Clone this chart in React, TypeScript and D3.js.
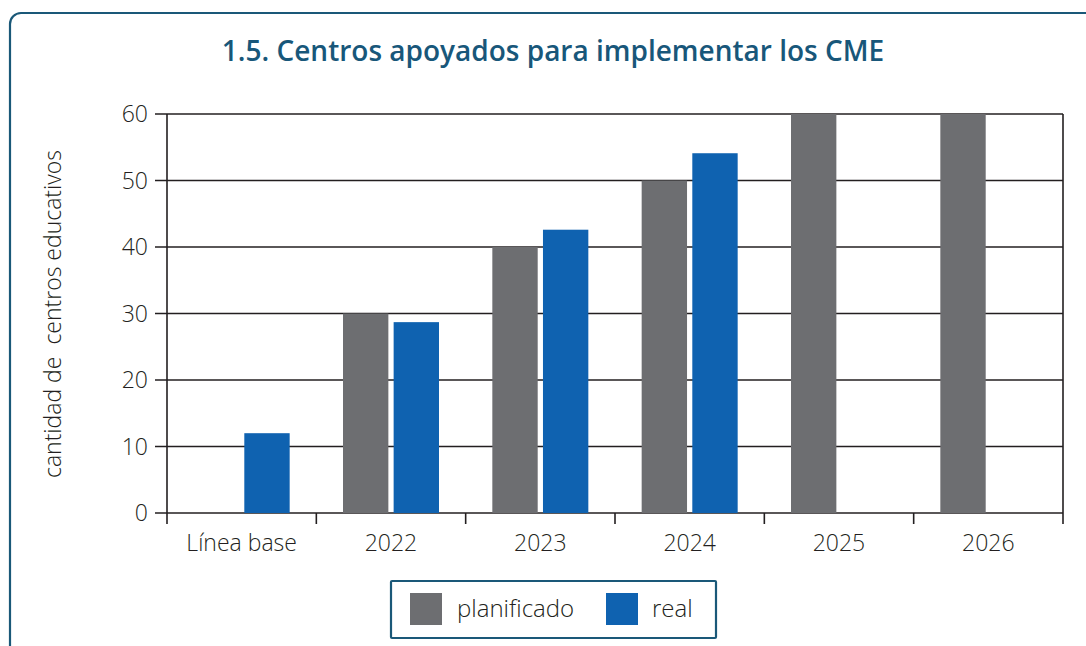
import React from "react";
import * as d3 from "d3";

const categories = ["Línea base", "2022", "2023", "2024", "2025", "2026"];
const planificado: (number | null)[] = [null, 30, 40, 50, 60, 60];
const real: (number | null)[] = [12, 28.7, 42.6, 54.1, null, null];
const yTicks = [0, 10, 20, 30, 40, 50, 60];
const seriesNames = ["planificado", "real"];
const title = "1.5. Centros apoyados para implementar los CME";
const yLabel = "cantidad de  centros educativos";

const W = 1086;
const H = 646;
const M = { left: 167, right: 1063, top: 114, bottom: 513 };
const GRAY = "#6d6e71";
const BLUE = "#0f62b0";
const TEAL = "#1a5878";
const INK = "#231f20";
const FONT = "'Open Sans', sans-serif";

export default function App() {
  const x = d3.scaleBand<string>().domain(categories).range([M.left, M.right]).padding(0);
  const y = d3.scaleLinear().domain([0, 60]).range([M.bottom, M.top]);
  const inner = d3.scaleBand<string>().domain(seriesNames).range([0, 96]).paddingInner(10 / 96);
  const bw = inner.bandwidth();
  const colors: Record<string, string> = { planificado: GRAY, real: BLUE };
  const data: Record<string, (number | null)[]> = { planificado, real };
  const boundaries = [...categories.map((c) => x(c)!), M.right];

  return (
    <svg width={W} height={H} style={{ position: "absolute", left: 0, top: 0, background: "#fff" }}>
      <rect x={10} y={13} width={W + 20} height={H + 20} rx={11} fill="#fff" stroke={TEAL} strokeWidth={2.2} />
      <text x={553} y={61} textAnchor="middle" fontFamily={FONT} fontWeight={600} fontSize={28} fill="#18577a">
        {title}
      </text>
      {/* gridlines */}
      {yTicks.map((t) => (
        <line key={t} x1={M.left - 12} x2={M.right} y1={y(t)} y2={y(t)} stroke={INK} strokeWidth={1.6} />
      ))}
      {yTicks.map((t) => (
        <text key={"l" + t} x={148} y={y(t)} dy="0.35em" textAnchor="end" fontFamily={FONT} fontWeight={300} fontSize={23} fill={INK}>
          {t}
        </text>
      ))}
      {/* bars */}
      {categories.map((c, i) => {
        const cx = x(c)! + x.bandwidth() / 2 - 48;
        return seriesNames.map((s) => {
          const v = data[s][i];
          if (v == null) return null;
          return (
            <rect key={c + s} x={cx + inner(s)!} y={y(v)} width={bw} height={y(0) - y(v)} fill={colors[s]} />
          );
        });
      })}
      {/* axes */}
      <line x1={M.left} x2={M.left} y1={M.top} y2={M.bottom} stroke={INK} strokeWidth={1.6} />
      <line x1={M.right} x2={M.right} y1={M.top} y2={M.bottom} stroke={INK} strokeWidth={1.6} />
      {boundaries.map((b, i) => (
        <line key={"t" + i} x1={b} x2={b} y1={M.bottom} y2={M.bottom + 11} stroke={INK} strokeWidth={1.6} />
      ))}
      {categories.map((c) => (
        <text key={"c" + c} x={x(c)! + x.bandwidth() / 2} y={551} textAnchor="middle" fontFamily={FONT} fontWeight={300} fontSize={23} fill={INK}>
          {c}
        </text>
      ))}
      <text transform={`translate(61,${314}) rotate(-90)`} textAnchor="middle" fontFamily={FONT} fontWeight={300} fontSize={23} fill={INK} style={{ whiteSpace: "pre" }}>
        {yLabel}
      </text>
      {/* legend */}
      <rect x={391} y={581} width={325} height={57} fill="#fff" stroke={TEAL} strokeWidth={2.2} rx={1} />
      <rect x={410} y={593} width={32} height={32} fill={GRAY} />
      <text x={457} y={609} dy="0.35em" fontFamily={FONT} fontWeight={300} fontSize={24} fill={INK}>
        planificado
      </text>
      <rect x={606} y={593} width={32} height={32} fill={BLUE} />
      <text x={652} y={609} dy="0.35em" fontFamily={FONT} fontWeight={300} fontSize={24} fill={INK}>
        real
      </text>
    </svg>
  );
}
